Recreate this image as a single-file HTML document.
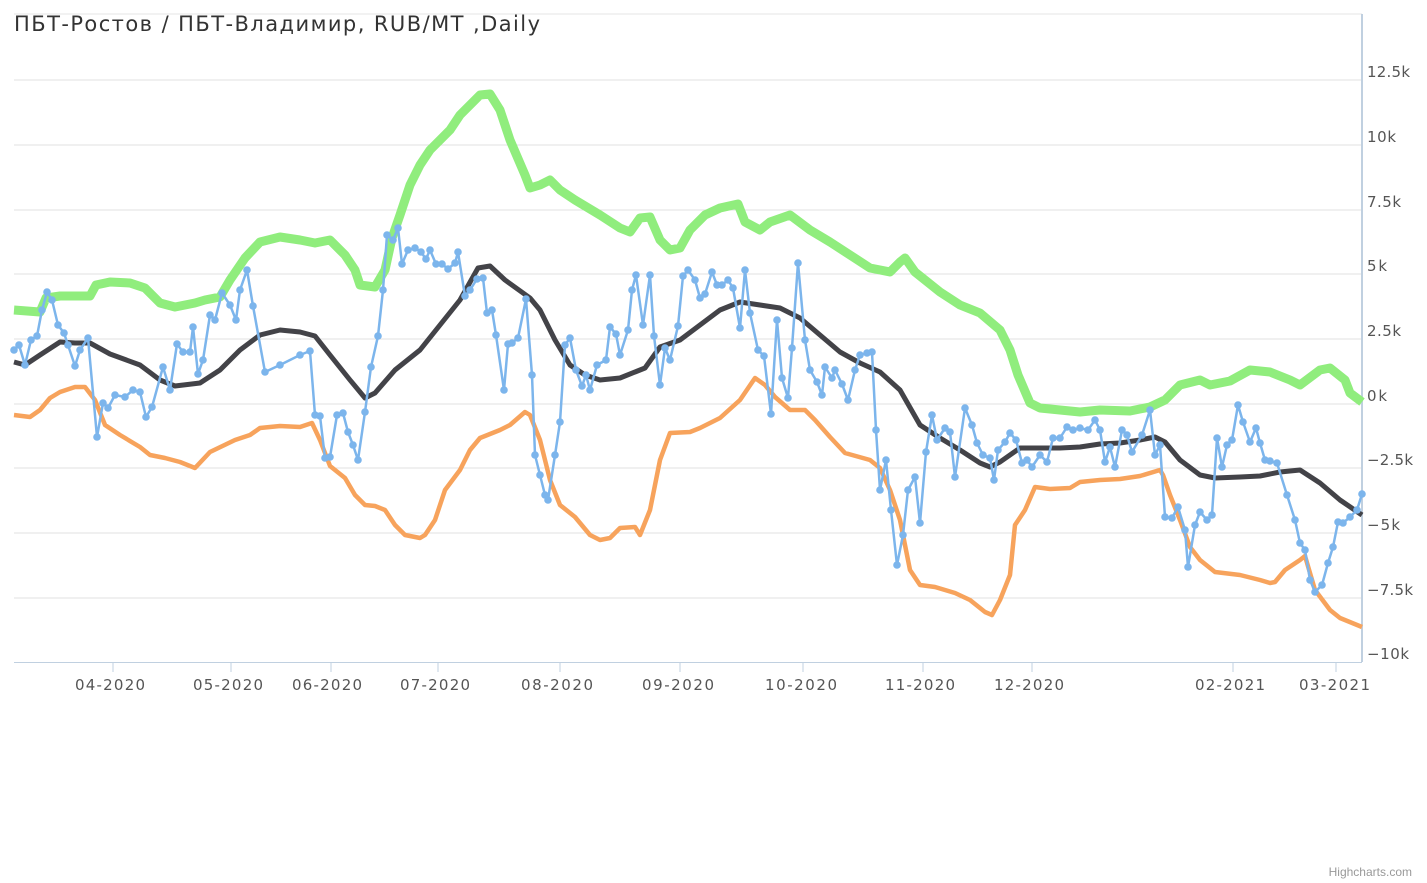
<!DOCTYPE html>
<html><head><meta charset="utf-8"><style>
body{margin:0;background:#fff;}
svg{display:block;font-family:"DejaVu Sans","Liberation Sans",sans-serif;}
</style></head><body>
<svg width="1427" height="883" viewBox="0 0 1427 883">
<defs>
<marker id="c" markerUnits="userSpaceOnUse" markerWidth="10" markerHeight="10" refX="5" refY="5"><circle cx="5" cy="5" r="3.8" fill="#7cb5ec"/></marker>
</defs>
<line x1="14" y1="14" x2="1362" y2="14" stroke="#e6e6e6"/>
<g stroke="#e0e0e0" stroke-width="1">
<line x1="14" y1="80" x2="1362" y2="80"/><line x1="14" y1="145" x2="1362" y2="145"/>
<line x1="14" y1="210" x2="1362" y2="210"/><line x1="14" y1="274" x2="1362" y2="274"/>
<line x1="14" y1="339" x2="1362" y2="339"/><line x1="14" y1="404" x2="1362" y2="404"/>
<line x1="14" y1="468" x2="1362" y2="468"/><line x1="14" y1="533" x2="1362" y2="533"/>
<line x1="14" y1="598" x2="1362" y2="598"/>
</g>
<line x1="14" y1="662.5" x2="1362" y2="662.5" stroke="#c0d0e0"/>
<line x1="1362" y1="14" x2="1362" y2="662" stroke="#c0d0e0" stroke-width="2"/>
<g stroke="#c0d0e0"><line x1="113" y1="662" x2="113" y2="672"/><line x1="231" y1="662" x2="231" y2="672"/><line x1="331" y1="662" x2="331" y2="672"/><line x1="438" y1="662" x2="438" y2="672"/><line x1="560" y1="662" x2="560" y2="672"/><line x1="680" y1="662" x2="680" y2="672"/><line x1="803" y1="662" x2="803" y2="672"/><line x1="923" y1="662" x2="923" y2="672"/><line x1="1032" y1="662" x2="1032" y2="672"/><line x1="1233" y1="662" x2="1233" y2="672"/><line x1="1336" y1="662" x2="1336" y2="672"/></g>
<g fill="#555" font-size="15">
<text x="75" y="690" textLength="70" lengthAdjust="spacing">04-2020</text><text x="193" y="690" textLength="70" lengthAdjust="spacing">05-2020</text><text x="292" y="690" textLength="70" lengthAdjust="spacing">06-2020</text><text x="400" y="690" textLength="70" lengthAdjust="spacing">07-2020</text><text x="521" y="690" textLength="72" lengthAdjust="spacing">08-2020</text><text x="642" y="690" textLength="72" lengthAdjust="spacing">09-2020</text><text x="765" y="690" textLength="72" lengthAdjust="spacing">10-2020</text><text x="885" y="690" textLength="70" lengthAdjust="spacing">11-2020</text><text x="994" y="690" textLength="70" lengthAdjust="spacing">12-2020</text><text x="1195" y="690" textLength="70" lengthAdjust="spacing">02-2021</text><text x="1299" y="690" textLength="71" lengthAdjust="spacing">03-2021</text>
</g>
<g fill="#555" font-size="15">
<text x="1367" y="77" textLength="43" lengthAdjust="spacing">12.5k</text><text x="1367" y="142" textLength="29" lengthAdjust="spacing">10k</text><text x="1367" y="207" textLength="34" lengthAdjust="spacing">7.5k</text><text x="1367" y="271" textLength="20" lengthAdjust="spacing">5k</text><text x="1367" y="336" textLength="34" lengthAdjust="spacing">2.5k</text><text x="1367" y="401" textLength="20" lengthAdjust="spacing">0k</text><text x="1367" y="465" textLength="46" lengthAdjust="spacing">−2.5k</text><text x="1367" y="530" textLength="33" lengthAdjust="spacing">−5k</text><text x="1367" y="595" textLength="46" lengthAdjust="spacing">−7.5k</text><text x="1367" y="659" textLength="42" lengthAdjust="spacing">−10k</text>
</g>
<text x="14" y="31" font-size="21" fill="#333" textLength="526" lengthAdjust="spacing">ПБТ-Ростов / ПБТ-Владимир, RUB/MT ,Daily</text>
<text x="1412" y="876" font-size="12" fill="#999" text-anchor="end" font-family="Liberation Sans, sans-serif">Highcharts.com</text>
<g fill="none" stroke-linejoin="round">
<polyline stroke="#90ed7d" stroke-width="9" points="14,310 40,312 46,298 60,296 90,296 96,285 110,282 130,283 145,288 160,303 175,307 195,303 205,300 220,297 230,280 245,258 260,242 280,237 300,240 315,243 330,240 345,255 355,270 360,285 375,287 385,270 392,238 400,215 410,185 420,165 430,150 440,140 450,130 460,115 470,105 480,95 490,94 500,110 510,140 525,175 530,188 540,185 550,180 560,190 575,200 600,215 620,228 630,232 640,218 650,217 660,240 670,250 680,248 690,230 705,215 720,208 738,204 745,222 760,230 770,222 790,215 810,230 830,242 850,255 870,268 890,272 900,262 905,258 915,272 940,292 960,305 980,313 1000,330 1010,350 1018,375 1030,403 1040,408 1060,410 1080,412 1100,410 1130,411 1150,407 1165,400 1180,385 1200,380 1210,385 1230,381 1250,370 1270,372 1290,380 1300,385 1320,370 1330,368 1345,380 1350,393 1362,402"/>
<polyline stroke="#f7a35c" stroke-width="4.5" points="14,415 30,417 40,410 50,398 60,392 75,387 85,387 95,400 105,425 120,435 140,447 150,455 165,458 180,462 195,468 210,452 235,440 250,435 260,428 280,426 300,427 312,423 320,440 330,466 345,478 355,495 365,505 375,506 385,510 395,525 405,535 420,538 425,535 435,520 445,490 460,470 470,450 480,438 500,430 510,425 525,412 530,415 540,440 550,480 560,505 575,517 590,535 600,540 610,538 620,528 635,527 640,535 650,510 660,460 670,433 690,432 700,428 720,418 740,400 755,378 765,385 775,397 790,410 805,410 815,420 830,437 845,453 870,460 880,468 890,490 900,520 910,570 920,585 935,587 955,593 970,600 985,612 992,615 1000,600 1010,575 1015,525 1025,510 1035,487 1050,489 1070,488 1080,482 1100,480 1120,479 1140,476 1160,470 1163,475 1170,495 1180,520 1190,547 1200,560 1215,572 1240,575 1260,580 1270,583 1275,582 1285,570 1300,560 1305,556 1315,590 1330,610 1340,618 1362,627"/>
<polyline stroke="#434348" stroke-width="5" points="14,362 25,365 40,355 60,342 75,343 90,343 110,354 140,365 160,380 175,386 200,383 220,370 240,350 260,335 280,330 300,332 315,336 330,355 350,380 365,398 375,393 395,370 420,350 440,325 460,300 478,268 490,266 505,280 530,298 540,310 555,340 570,365 585,375 600,380 620,378 645,368 660,347 680,340 700,325 720,310 740,302 760,305 780,308 800,318 820,335 840,352 860,363 880,372 900,390 920,425 940,438 960,450 980,463 990,467 1000,462 1020,448 1040,448 1060,448 1080,447 1100,444 1120,443 1140,440 1155,437 1165,442 1180,460 1200,475 1215,478 1240,477 1260,476 1280,472 1300,470 1320,483 1340,500 1362,515"/>
<polyline stroke="#7cb5ec" stroke-width="2.5" marker-start="url(#c)" marker-mid="url(#c)" marker-end="url(#c)" points="14,350 19,345 25,365 31,340 37,336 42,310 47,292 52,300 58,325 64,333 68,345 75,366 80,350 88,338 97,437 103,403 108,408 115,395 125,397 133,390 140,392 146,417 152,407 163,367 170,390 177,344 183,352 190,352 193,327 198,374 203,360 210,315 215,320 222,293 230,305 236,320 240,290 247,270 253,306 265,372 280,365 300,355 310,351 315,415 320,416 325,458 330,457 337,415 343,413 348,432 353,445 358,460 365,412 371,367 378,336 383,290 387,235 393,240 398,228 402,264 408,250 415,248 421,252 426,259 430,250 436,264 442,264 448,269 455,263 458,252 465,296 470,290 477,279 483,278 487,313 492,310 496,335 504,390 508,344 512,343 518,338 526,299 532,375 535,455 540,475 545,495 548,500 555,455 560,422 565,345 570,338 576,370 582,386 586,375 590,390 597,365 606,360 610,327 616,334 620,355 628,330 632,290 636,275 643,325 650,275 654,336 660,385 665,348 670,360 678,326 683,276 688,270 695,280 700,298 705,294 712,272 717,285 722,285 728,280 733,288 740,328 745,270 750,313 758,350 764,356 771,414 777,320 782,378 788,398 792,348 798,263 805,340 810,370 817,382 822,395 825,367 832,378 835,370 842,384 848,400 855,370 860,355 867,353 872,352 876,430 880,490 886,460 891,510 897,565 903,535 908,490 915,477 920,523 926,452 932,415 937,440 945,428 950,432 955,477 965,408 972,425 977,443 983,455 990,458 994,480 998,450 1005,442 1010,433 1016,440 1022,463 1027,460 1032,467 1040,455 1047,462 1053,438 1060,438 1067,427 1073,430 1080,428 1088,430 1095,420 1100,430 1105,462 1110,447 1115,467 1122,430 1127,435 1132,452 1142,435 1150,410 1155,455 1160,445 1165,517 1172,518 1178,507 1185,530 1188,567 1195,525 1200,512 1207,520 1212,515 1217,438 1222,467 1227,445 1232,440 1238,405 1243,422 1250,442 1256,428 1260,443 1265,460 1270,461 1277,463 1287,495 1295,520 1300,543 1305,550 1310,580 1315,592 1322,585 1328,563 1333,547 1338,522 1343,523 1350,517 1357,510 1362,494"/>
</g>
</svg>
</body></html>
